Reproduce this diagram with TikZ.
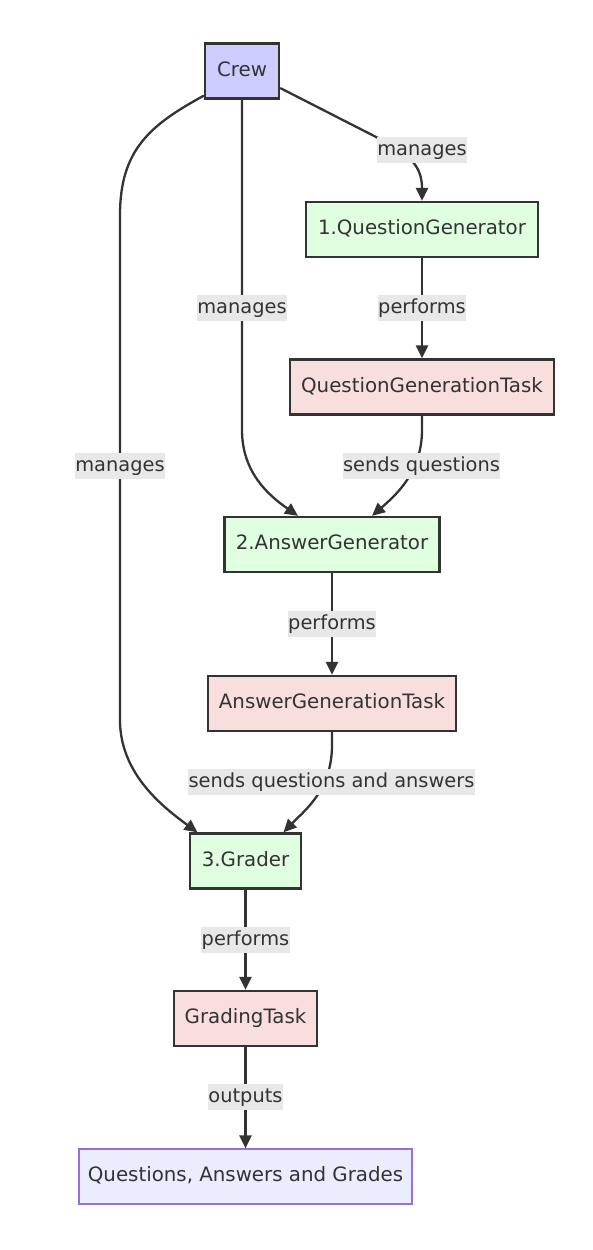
\documentclass[tikz,border=0pt]{standalone}
\usepackage{fontspec}
\setmainfont{DejaVu Sans}
\usetikzlibrary{arrows.meta}
\definecolor{ink}{HTML}{333333}
\definecolor{crewfill}{HTML}{CCCCFF}
\definecolor{agentfill}{HTML}{E0FFE0}
\definecolor{taskfill}{HTML}{F9DEDE}
\definecolor{outfill}{HTML}{ECECFF}
\definecolor{outline}{HTML}{9370DB}
\definecolor{lblfill}{HTML}{E8E8E8}
\tikzset{
  basebox/.style={draw=ink, line width=2.3pt, minimum height=55pt, inner sep=0pt,
    text=ink, font=\fontsize{19.8}{23}\selectfont, text height=14.5pt, text depth=4pt},
  crewbox/.style={basebox, fill=crewfill},
  agentbox/.style={basebox, fill=agentfill},
  taskbox/.style={basebox, fill=taskfill},
  outbox/.style={basebox, fill=outfill, draw=outline, line width=1.2pt},
  lbl/.style={fill=lblfill, text=ink, inner xsep=0.5pt, inner ysep=3.75pt,
    font=\fontsize{19.4}{23}\selectfont, text height=14.5pt, text depth=4pt},
  conn/.style={draw=ink, line width=2.3pt, -{Triangle[length=13pt,width=12pt]}},
}
\begin{document}
\begin{tikzpicture}[x=1pt,y=-1pt]
\useasboundingbox[fill=white] (0,0) rectangle (592,1250);

\node[crewbox, minimum width=74pt] (crew) at (242,71) {Crew};
\node[agentbox, minimum width=232pt] (qg) at (422,229.5) {1.QuestionGenerator};
\node[taskbox, minimum width=264pt] (qgt) at (422,387) {QuestionGenerationTask};
\node[agentbox, minimum width=215pt] (ag) at (332,544.5) {2.AnswerGenerator};
\node[taskbox, minimum width=248pt] (agt) at (332,703.5) {AnswerGenerationTask};
\node[agentbox, minimum width=111pt] (grader) at (245.5,861) {3.Grader};
\node[taskbox, minimum width=143pt] (gt) at (245.5,1018.5) {GradingTask};
\node[outbox, minimum width=333pt] (out) at (245.5,1176.5) {Questions, Answers and Grades};

% Crew -> QuestionGenerator
\draw[conn] ([yshift=-17pt]crew.east) -- (380,139) .. controls (412,155) and (422,168) .. (qg.north);
% Crew -> AnswerGenerator
\draw[conn] (crew.south) -- (242,430) .. controls (242,472) and (268,495) .. ([xshift=-34pt]ag.north);
% Crew -> Grader
\draw[conn] ([yshift=4pt]crew.south west) .. controls (150,125) and (120,150) .. (120,215) -- (120,720) .. controls (120,772) and (160,805) .. ([xshift=-48pt]grader.north);
% QG -> QGT
\draw[conn] (qg.south) -- (qgt.north);
% QGT -> AG
\draw[conn] (qgt.south) -- (422,430) .. controls (422,472) and (396,495) .. ([xshift=40pt]ag.north);
% AG -> AGT
\draw[conn] (ag.south) -- (agt.north);
% AGT -> Grader
\draw[conn] (agt.south) -- (332,745) .. controls (332,790) and (305,810) .. ([xshift=38pt]grader.north);
% Grader -> GT
\draw[conn] (grader.south) -- (gt.north);
% GT -> Out
\draw[conn] (gt.south) -- (out.north);

% labels
\node[lbl] (l1) at (422,150) {manages};
\node[lbl] (l2) at (242,308) {manages};
\node[lbl] (l3) at (120,466) {manages};
\node[lbl] (l4) at (422,308) {performs};
\node[lbl] (l5) at (421.5,466) {sends questions};
\node[lbl] (l6) at (332,624) {performs};
\node[lbl] (l7) at (331.5,782) {sends questions and answers};
\node[lbl] (l8) at (245.5,940) {performs};
\node[lbl] (l9) at (245.5,1097) {outputs};
\end{tikzpicture}
\end{document}
